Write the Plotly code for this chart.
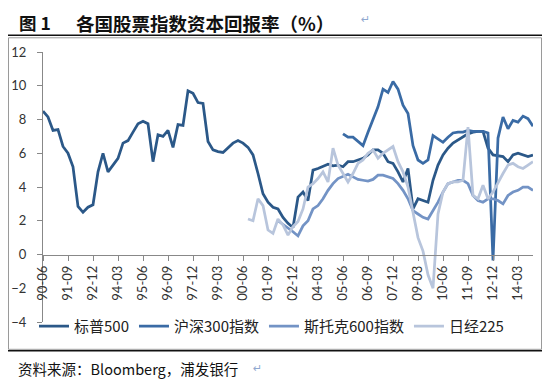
import plotly.graph_objects as go

# ---- data (quarterly, 1990-06 .. 2014-12) ----
categories = [f"{y % 100:02d}-{m:02d}" for y in range(1990, 2015) for m in (3, 6, 9, 12)][1:]
tick_labels = categories[::5]

sp500 = [8.5, 8.15, 7.35, 7.4, 6.4, 6.0, 5.2, 2.85, 2.5, 2.8,
         2.95, 4.9, 6.0, 4.9, 5.3, 5.7, 6.6, 6.75, 7.25, 7.75,
         7.9, 7.75, 5.5, 7.1, 7.0, 7.35, 6.35, 7.7, 7.65, 9.7,
         9.55, 9.0, 8.95, 6.7, 6.2, 6.1, 6.05, 6.3, 6.6, 6.75,
         6.6, 6.35, 5.9, 4.8, 3.6, 3.1, 2.8, 2.7, 2.2, 1.85,
         1.6, 3.4, 3.7, 3.2, 5.0, 5.1, 5.25, 5.35, 5.25, 5.3,
         5.2, 5.5, 5.5, 5.6, 5.7, 5.9, 6.2, 6.2, 6.0, 5.5,
         5.4, 4.9, 4.3, 5.1, 2.7, 3.3, 3.2, 3.1, 4.4, 5.3,
         5.9, 6.3, 6.6, 6.8, 7.0, 7.15, 7.25, 7.3, 7.3, 6.3,
         5.9, 5.85, 5.8, 5.5, 5.9, 6.0, 5.9, 5.8, 5.9]

csi300 = [None] * 60 + [
    7.15, 6.95, 6.95, 6.7, 6.45, 7.25, 8.05, 8.75, 9.8, 9.6,
    10.25, 9.8, 8.85, 8.35, 6.45, 5.6, 5.4, 5.6, 7.05, 6.85,
    6.65, 6.95, 7.2, 7.25, 7.25, 7.35, 7.3, 7.3, 7.3, 7.2,
    -0.35, 6.9, 8.15, 7.45, 7.95, 7.85, 8.2, 8.05, 7.6]

stoxx600 = [None] * 47 + [
    2.0, 1.8, 1.55, 1.35, 1.1, 1.7, 2.0, 2.7, 2.9, 3.3,
    3.8, 4.2, 4.5, 4.65, 4.75, 4.6, 4.45, 4.4, 4.35, 4.45,
    4.7, 4.7, 4.6, 4.5, 4.2, 3.8, 3.3, 2.6, 2.4, 2.2,
    2.1, 2.6, 3.1, 3.7, 4.2, 4.3, 4.4, 4.4, 4.2, 3.5,
    3.2, 3.1, 3.3, 3.3, 3.2, 3.0, 3.5, 3.7, 3.8, 4.0,
    4.0, 3.8]

nikkei225 = [None] * 41 + [
    2.1, 2.0, 3.3, 2.9, 1.45, 1.25, 2.1, 1.75, 1.15, 1.65,
    1.95, 2.7, 4.0, 4.2, 4.5, 4.9, 4.3, 6.3, 5.3, 4.8,
    4.3, 4.8, 5.4, 5.6, 6.0, 6.2, 5.7, 6.0, 6.2, 6.4,
    5.5, 4.9, 4.0, 2.4, 1.0, 0.2, -1.2, -2.0, 2.4, 3.7,
    4.2, 4.3, 4.3, 4.4, 7.55, 3.5, 3.3, 4.1, 3.3, 3.7,
    4.3, 4.8, 5.3, 5.4, 5.2, 5.1, 5.3, 5.5]

series_names = ["标普500", "沪深300指数", "斯托克600指数", "日经225"]
series_colors = ["#2B5888", "#3A6BA5", "#7393C5", "#B8C5DC"]
series_values = [sp500, csi300, stoxx600, nikkei225]

# ---- layout geometry ----
# The page body has an 8px default margin, so the figure is drawn 8px smaller
# and every reference pixel position is shifted by OFF.
OFF = 8
W, H = 550 - OFF, 385 - OFF
PL, PR, PT, PB = 43 - OFF, 533 - OFF, 51.7 - OFF, 321.7 - OFF


def fx(x_ref):
    return (x_ref - OFF - PL) / (PR - PL)


def fy(y_ref):
    return (PB - (y_ref - OFF)) / (PB - PT)


fig = go.Figure()
for name, color, vals in zip(series_names, series_colors, series_values):
    fig.add_trace(go.Scatter(
        x=categories, y=vals, name=name, mode="lines",
        line=dict(color=color, width=2.75), connectgaps=False,
        hoverinfo="skip"))

axis_font = dict(family="Lato, 'Liberation Sans', sans-serif", size=13, color="#333333")
cjk = "'Noto Sans CJK SC', 'Noto Sans', sans-serif"

fig.update_layout(
    width=W, height=H,
    margin=dict(l=PL, r=W - PR, t=PT, b=H - PB, autoexpand=False),
    paper_bgcolor="white", plot_bgcolor="white",
    showlegend=True,
    legend=dict(orientation="h", x=fx(34), xanchor="left", y=fy(326), yanchor="middle",
                font=dict(family=cjk, size=15, color="#222222"),
                bgcolor="rgba(0,0,0,0)", itemwidth=30),
    xaxis=dict(type="category", categoryorder="array", categoryarray=categories,
               range=[0, len(categories) - 1],
               anchor="free", position=0.25,
               showline=True, linecolor="#888888", linewidth=1,
               ticks="outside", ticklen=5, tickcolor="#888888",
               tickvals=tick_labels, ticktext=tick_labels, tickangle=-90,
               tickfont=axis_font, showgrid=False, zeroline=False),
    yaxis=dict(range=[-4, 12], dtick=2, tick0=0,
               showline=True, linecolor="#888888", linewidth=1,
               ticks="outside", ticklen=5, tickcolor="#888888",
               tickfont=axis_font, showgrid=False, zeroline=False,
               ticklabelstandoff=8),
)

# frame lines (document table borders + chart border)
shapes = [
    dict(type="rect", xref="paper", yref="paper", x0=fx(8.5), x1=fx(541.5), y0=fy(349), y1=fy(37.5),
         line=dict(color="#9A9A9A", width=1), fillcolor="rgba(0,0,0,0)", layer="below"),
    dict(type="line", xref="paper", yref="paper", x0=fx(8), x1=fx(548), y0=fy(35), y1=fy(35),
         line=dict(color="#111111", width=1.5)),
    dict(type="line", xref="paper", yref="paper", x0=fx(8), x1=fx(548), y0=fy(350.5), y1=fy(350.5),
         line=dict(color="#111111", width=1.5)),
]
fig.update_layout(shapes=shapes)

annotations = [
    dict(text="<b>图 1</b>", x=fx(18), y=fy(9), xanchor="left", yanchor="top",
         font=dict(family=cjk, size=17.5, color="#111111")),
    dict(text="<b>各国股票指数资本回报率（%）</b>", x=fx(75), y=fy(9), xanchor="left", yanchor="top",
         font=dict(family=cjk, size=18.5, color="#111111")),
    dict(text="↵", x=fx(360), y=fy(19), xanchor="left", yanchor="middle",
         font=dict(family="DejaVu Sans", size=11, color="#8FA8D0")),
    dict(text="资料来源：Bloomberg，浦发银行", x=fx(17), y=fy(368), xanchor="left", yanchor="middle",
         font=dict(family=cjk, size=14.5, color="#111111")),
    dict(text="↵", x=fx(252), y=fy(368), xanchor="left", yanchor="middle",
         font=dict(family="DejaVu Sans", size=11, color="#8FA8D0")),
]
for a in annotations:
    a.update(xref="paper", yref="paper", showarrow=False, borderpad=0)
fig.update_layout(annotations=annotations)

fig.write_html("out.html")
